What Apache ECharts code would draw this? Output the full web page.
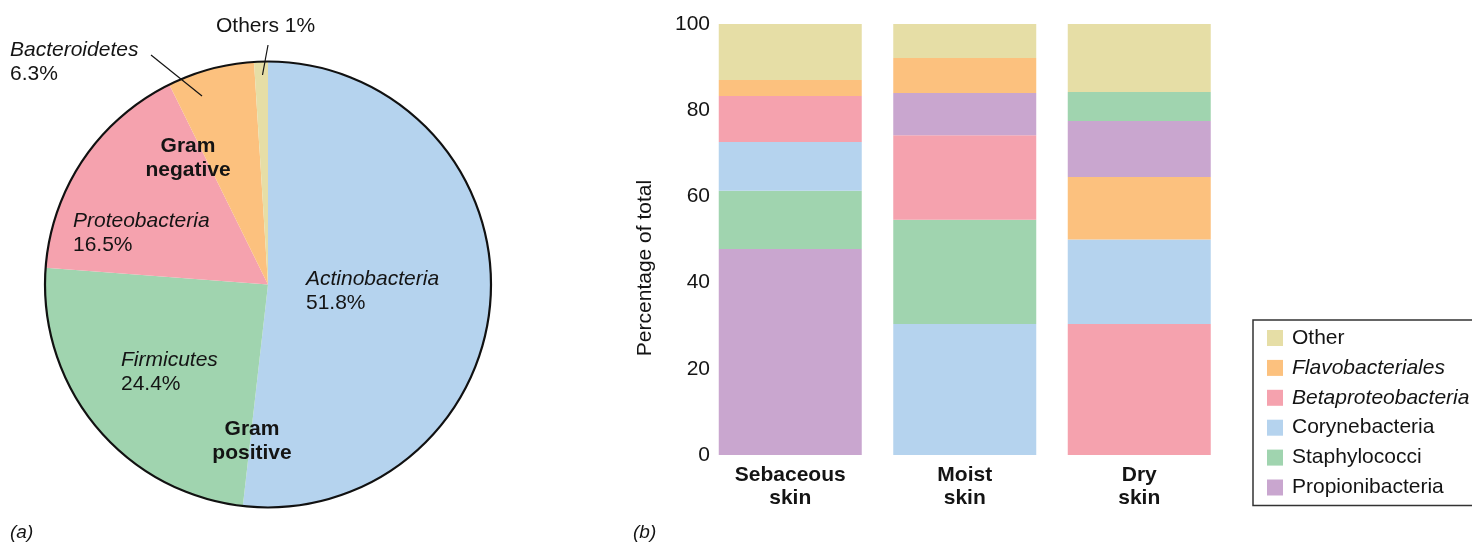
<!DOCTYPE html>
<html>
<head>
<meta charset="utf-8">
<script src="https://cdn.jsdelivr.net/npm/echarts@6/dist/echarts.min.js"></script>
<style>
html,body{margin:0;padding:0;background:#fff;}
#chart{width:1472px;height:544px;}
</style>
</head>
<body>
<div id="chart"></div>
<script>
// ---- Pie (a) data ----
const pieNames = ['Actinobacteria', 'Firmicutes', 'Proteobacteria', 'Bacteroidetes', 'Others'];
const pieValues = [51.8, 24.4, 16.5, 6.3, 1];
const pieColors = ['#b5d3ee', '#a0d4af', '#f5a2ae', '#fcc17e', '#e6dea6'];

// ---- Stacked bars (b) data ----
const skinTypes = ['Sebaceous\nskin', 'Moist\nskin', 'Dry\nskin'];
const taxa = ['Other', 'Flavobacteriales', 'Betaproteobacteria', 'Corynebacteria', 'Staphylococci', 'Propionibacteria'];
const taxaColors = ['#e6dea6', '#fcc17e', '#f5a2ae', '#b5d3ee', '#a0d4af', '#c9a6cf'];
const italicTaxa = ['Flavobacteriales', 'Betaproteobacteria'];
// values per skin type (Sebaceous, Moist, Dry)
const otherVals = [13.0, 7.9, 15.8];
const flavoVals = [3.7, 8.1, 14.5];
const betaVals = [10.7, 19.6, 30.4];
const coryVals = [11.3, 30.4, 19.6];
const staphVals = [13.5, 24.2, 6.7];
const propVals = [47.8, 9.8, 13.0];
// stacking order (bottom -> top) in each bar
const sebaceousOrder = ['Propionibacteria', 'Staphylococci', 'Corynebacteria', 'Betaproteobacteria', 'Flavobacteriales', 'Other'];
const moistOrder = ['Corynebacteria', 'Staphylococci', 'Betaproteobacteria', 'Propionibacteria', 'Flavobacteriales', 'Other'];
const dryOrder = ['Betaproteobacteria', 'Corynebacteria', 'Flavobacteriales', 'Propionibacteria', 'Staphylococci', 'Other'];
const yTicks = [0, 20, 40, 60, 80, 100];
const yAxisTitle = 'Percentage of total';

const valuesByTaxon = {
  'Other': otherVals, 'Flavobacteriales': flavoVals, 'Betaproteobacteria': betaVals,
  'Corynebacteria': coryVals, 'Staphylococci': staphVals, 'Propionibacteria': propVals
};
const orders = [sebaceousOrder, moistOrder, dryOrder];

const FONT = '"Liberation Sans", Arial, Helvetica, sans-serif';
const TXT = '#141414';
const FS = 21;

const barSeries = [];
orders.forEach((order, ci) => {
  order.forEach(name => {
    const data = skinTypes.map((_, k) => k === ci ? valuesByTaxon[name][ci] : '-');
    barSeries.push({
      type: 'bar', name: name, stack: 'total', barWidth: 143,
      xAxisIndex: 0, yAxisIndex: 0,
      itemStyle: { color: taxaColors[taxa.indexOf(name)] },
      data: data, silent: true
    });
  });
});

const cx = 268, cy = 284.5, R = 223;

function t(text, x, y, opts) {
  return {
    type: 'text', z: 100,
    style: Object.assign({
      text: text, x: x, y: y, fill: TXT, fontFamily: FONT, fontSize: FS,
      align: 'left', verticalAlign: 'middle'
    }, opts || {})
  };
}
function lbl(i) { return pieNames[i]; }
function pct(i) { return pieValues[i] + '%'; }

const graphics = [
  // Others
  t(lbl(4) + ' ' + pct(4), 216, 26),
  { type: 'line', z: 100, shape: { x1: 268, y1: 45, x2: 262.5, y2: 75 }, style: { stroke: TXT, lineWidth: 1.2 } },
  // Bacteroidetes
  t(lbl(3), 10, 50, { fontStyle: 'italic' }),
  t(pct(3), 10, 74),
  { type: 'line', z: 100, shape: { x1: 151, y1: 55, x2: 202, y2: 96 }, style: { stroke: TXT, lineWidth: 1.2 } },
  // Gram negative
  t('Gram', 188, 146, { fontWeight: 'bold', align: 'center' }),
  t('negative', 188, 170, { fontWeight: 'bold', align: 'center' }),
  // Proteobacteria
  t(lbl(2), 73, 221, { fontStyle: 'italic' }),
  t(pct(2), 73, 245),
  // Actinobacteria
  t(lbl(0), 306, 279, { fontStyle: 'italic' }),
  t(pct(0), 306, 303),
  // Firmicutes
  t(lbl(1), 121, 360, { fontStyle: 'italic' }),
  t(pct(1), 121, 384),
  // Gram positive
  t('Gram', 252, 429, { fontWeight: 'bold', align: 'center' }),
  t('positive', 252, 453, { fontWeight: 'bold', align: 'center' }),
  // y axis title
  {
    type: 'text', z: 100, x: 645, y: 268, rotation: Math.PI / 2,
    style: { text: yAxisTitle, x: 0, y: 0, fill: TXT, fontFamily: FONT, fontSize: FS, align: 'center', verticalAlign: 'middle' }
  },
  // panel letters
  t('(a)', 10, 533, { fontStyle: 'italic', fontSize: 19 }),
  t('(b)', 633, 533, { fontStyle: 'italic', fontSize: 19 })
];

const chart = echarts.init(document.getElementById('chart'), null, { renderer: 'canvas' });
chart.setOption({
  animation: false,
  backgroundColor: '#fff',
  textStyle: { fontFamily: FONT },
  grid: { left: 703, top: 24, width: 523.5, height: 431, containLabel: false },
  xAxis: {
    type: 'category', data: skinTypes,
    axisLine: { show: false }, axisTick: { show: false },
    axisLabel: { fontSize: FS, fontWeight: 'bold', color: TXT, lineHeight: 23, margin: 9, fontFamily: FONT, interval: 0 }
  },
  yAxis: {
    type: 'value', min: 0, max: 100, interval: 20,
    axisLine: { show: false }, axisTick: { show: false }, splitLine: { show: false },
    axisLabel: { fontSize: FS, color: TXT, margin: -7, fontFamily: FONT }
  },
  legend: {
    orient: 'vertical', left: 1253, top: 320,
    data: taxa,
    borderColor: '#333', borderWidth: 1.5, padding: [7.5, 200, 7.5, 14],
    itemWidth: 16, itemHeight: 16, itemGap: 8.9, icon: 'rect',
    selectedMode: false,
    formatter: function (name) { return italicTaxa.indexOf(name) >= 0 ? '{i|' + name + '}' : '{n|' + name + '}'; },
    textStyle: {
      fontSize: FS, color: TXT, fontFamily: FONT, padding: [0, 0, 0, 4], lineHeight: 21,
      rich: {
        n: { fontSize: FS, color: TXT, fontFamily: FONT, lineHeight: 21 },
        i: { fontSize: FS, color: TXT, fontFamily: FONT, fontStyle: 'italic', lineHeight: 21 }
      }
    }
  },
  series: [
    {
      type: 'pie', center: [cx, cy], radius: [0, R], startAngle: 90, clockwise: true,
      silent: true, label: { show: false }, labelLine: { show: false },
      itemStyle: { borderWidth: 0 },
      data: pieNames.map((n, i) => ({ name: n, value: pieValues[i], itemStyle: { color: pieColors[i] } }))
    },
    {
      type: 'pie', center: [cx, cy], radius: [0, R], silent: true,
      label: { show: false }, labelLine: { show: false }, z: 5,
      itemStyle: { color: 'rgba(0,0,0,0)', borderColor: '#111', borderWidth: 2.2 },
      data: [{ name: '_outline', value: 1 }]
    }
  ].concat(barSeries),
  graphic: graphics
});
</script>
</body>
</html>
